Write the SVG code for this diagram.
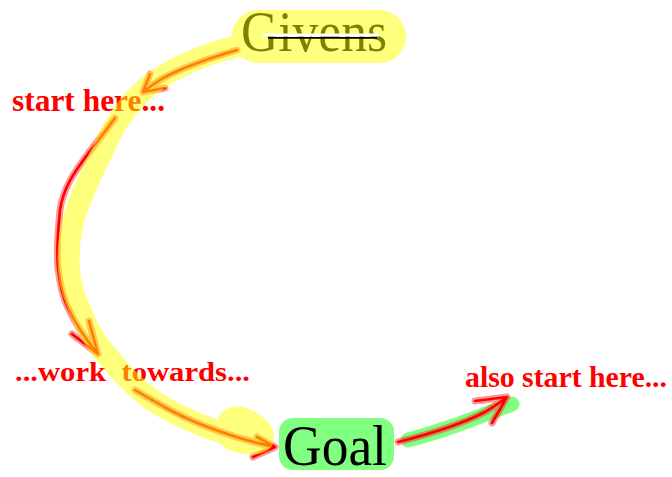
<svg xmlns="http://www.w3.org/2000/svg" width="672" height="477" viewBox="0 0 672 477">
<defs>
<style>
.lbl{font-family:"Liberation Serif","Times New Roman",serif;font-weight:bold;fill:#ff0000}
.big{font-family:"Liberation Serif","Times New Roman",serif}
.hl{fill:none;stroke-linecap:round;stroke-linejoin:round}
.halo{fill:none;stroke:#ff3030;stroke-opacity:0.5;stroke-width:7;stroke-linecap:round;stroke-linejoin:round}
.core{fill:none;stroke:#ff0000;stroke-width:2.6;stroke-linecap:round;stroke-linejoin:round}
</style>
</defs>
<rect width="672" height="477" fill="#ffffff"/>

<g id="goal-highlight">
<path class="hl" stroke="#80ff80" stroke-width="15" d="M408 440 C440 432 470 420 512 404"/>
</g>

<g id="goal">
<rect x="279" y="418" width="115" height="52" rx="14" fill="#80ff80"/>
<text class="big" x="283" y="465" font-size="57" fill="#000000" textLength="104" lengthAdjust="spacingAndGlyphs">Goal</text>
</g>

<g id="givens-text">
<text class="big" x="241" y="51" font-size="57" fill="#000000" textLength="146" lengthAdjust="spacingAndGlyphs">Givens</text>
</g>

<g id="connectors">
<path class="halo" d="M237 50 C210 58 180 68 160 80 C152 85 147 89 143 92 M150 74 L143 92 L165 88"/>
<path class="core" d="M237 50 C210 58 180 68 160 80 C152 85 147 89 143 92 M150 74 L143 92 L165 88"/>
<path class="halo" d="M115 118 C105 132 92 148 82 162 C72 176 63 190 60 210 C58 230 56 250 58 268 C60 285 63 298 68 308 C76 325 88 342 98 354 M89 321 L98 354 L72 334"/>
<path class="core" d="M115 118 C105 132 92 148 82 162 C72 176 63 190 60 210 C58 230 56 250 58 268 C60 285 63 298 68 308 C76 325 88 342 98 354 M89 321 L98 354 L72 334"/>
<path class="halo" d="M135 390 C155 402 175 414 200 424 C225 434 250 442 275 447 M257 437 L275 447 L253 457"/>
<path class="core" d="M135 390 C155 402 175 414 200 424 C225 434 250 442 275 447 M257 437 L275 447 L253 457"/>
<path class="halo" d="M398 442 C430 434 460 425 485 412 C495 406 502 401 507 397 M475 401 L507 397 L492 423"/>
<path class="core" d="M398 442 C430 434 460 425 485 412 C495 406 502 401 507 397 M475 401 L507 397 L492 423"/>
</g>

<g id="label-start">
<text class="lbl" x="12" y="111" font-size="32" textLength="153" lengthAdjust="spacingAndGlyphs">start here...</text>
</g>
<g id="label-work">
<text class="lbl" x="15" y="381" font-size="28" textLength="235" lengthAdjust="spacingAndGlyphs" xml:space="preserve" style="white-space:pre">...work  towards...</text>
</g>
<g id="label-also">
<text class="lbl" x="465" y="387" font-size="30" textLength="202" lengthAdjust="spacingAndGlyphs">also start here...</text>
</g>

<g id="givens" opacity="0.5">
<rect x="232" y="10" width="174" height="53" rx="26" fill="#ffff00"/>
<path class="hl" stroke="#ffff00" stroke-width="22" d="M238 46 C205 54 172 68 150 85 C130 101 115 122 104 148 C94 170 80 195 73 222 C67 248 66 275 76 300 C84 322 92 338 104 352 C120 372 135 388 152 400 C180 418 215 432 250 440"/>
<path fill="#ffff00" d="M218 420 C222 405 240 403 255 412 C270 420 278 432 272 446 C265 458 240 456 225 448 C215 440 214 430 218 420 Z"/>
</g>
<g id="givens-strike">
<line x1="263" y1="35" x2="379" y2="35" stroke="#ffffff" stroke-width="3"/>
<line x1="268" y1="37.8" x2="377" y2="37.8" stroke="#000000" stroke-width="1.8"/>
</g>
</svg>
